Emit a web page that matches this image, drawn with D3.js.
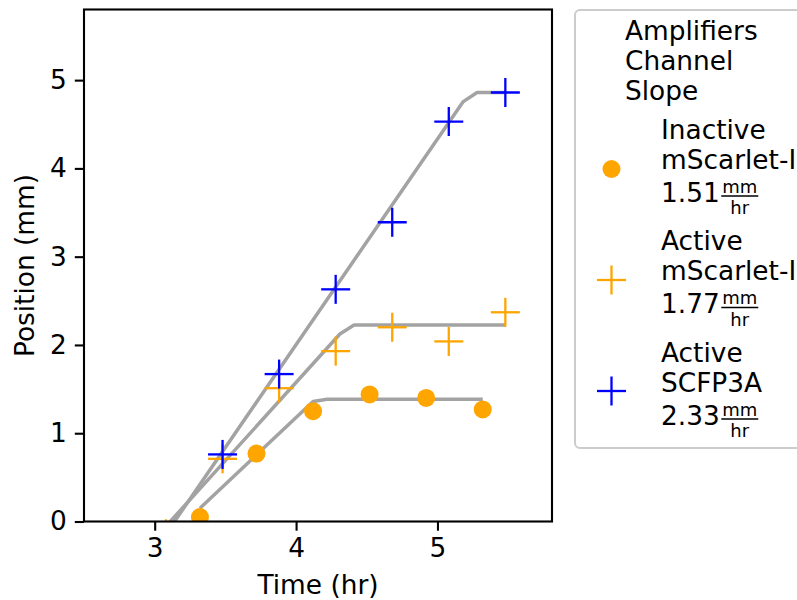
<!DOCTYPE html>
<html>
<head>
<meta charset="utf-8">
<script src="https://cdn.jsdelivr.net/npm/d3@7"></script>
<style>
  html, body { margin: 0; padding: 0; background: #fff; }
  svg { display: block; }
  text { font-family: "DejaVu Sans", sans-serif; fill: #000; }
</style>
</head>
<body>
<svg id="chart" width="797" height="600"></svg>
<script>
// Measured positions over time for each amplifier/channel combination
const inactiveTimes = [3.32, 3.72, 4.12, 4.52, 4.92, 5.32];
const inactivePos   = [0.05, 0.77, 1.25, 1.44, 1.40, 1.27];

const activeRedTimes = [3.08, 3.48, 3.88, 4.28, 4.68, 5.08, 5.48];
const activeRedPos   = [-0.14, 0.71, 1.51, 1.93, 2.20, 2.04, 2.37];

const activeBlueTimes = [3.48, 3.88, 4.28, 4.68, 5.08, 5.48];
const activeBluePos   = [0.76, 1.67, 2.63, 3.39, 4.53, 4.86];

// Ramp-and-plateau fits: slope (mm/hr), onset time (hr), plateau (mm)
const seriesNames = ["Inactive", "Active", "Active"];
const channelNames = ["mScarlet-I", "mScarlet-I", "SCFP3A"];
const fitSlopes = [1.51, 1.77, 2.33];
const fitOnsets = [3.22, 3.11, 3.14];
const fitPlateaus = [1.385, 2.225, 4.86];
const fitVertexTimes = [
  [3.32, 4.12, 4.22, 5.32],
  [3.08, 4.31, 4.41, 5.48],
  [3.08, 5.18, 5.28, 5.48]
];

const xTicks = [3, 4, 5];
const yTicks = [0, 1, 2, 3, 4, 5];
const xDomain = [2.5, 5.81];
const yDomain = [0, 5.8];

const svg = d3.select("#chart");
const frame = { left: 84, top: 9.5, width: 468, height: 512 };
const FS = 26.4;

const x = d3.scaleLinear().domain(xDomain).range([frame.left, frame.left + frame.width]);
const y = d3.scaleLinear().domain(yDomain).range([frame.top + frame.height, frame.top]);

svg.append("defs").append("clipPath").attr("id", "plot-clip")
  .append("rect")
  .attr("x", frame.left).attr("y", frame.top)
  .attr("width", frame.width).attr("height", frame.height);

const plot = svg.append("g").attr("clip-path", "url(#plot-clip)");

// Fit lines
const fitLine = d3.line().x(d => x(d[0])).y(d => y(d[1]));
fitVertexTimes.forEach((times, i) => {
  const pts = times.map(t => [t, Math.min(fitSlopes[i] * (t - fitOnsets[i]), fitPlateaus[i])]);
  plot.append("path")
    .attr("d", fitLine(pts))
    .attr("fill", "none")
    .attr("stroke", "#a3a3a3")
    .attr("stroke-width", 3.5)
    .attr("stroke-linejoin", "round");
});

const ORANGE = "#ffa500";
const BLUE = "#0000ff";
const crossHalf = 14.5;

function drawCross(g, cx, cy, color) {
  g.append("line").attr("x1", cx - crossHalf).attr("x2", cx + crossHalf)
    .attr("y1", cy).attr("y2", cy).attr("stroke", color).attr("stroke-width", 2.3);
  g.append("line").attr("x1", cx).attr("x2", cx)
    .attr("y1", cy - crossHalf).attr("y2", cy + crossHalf).attr("stroke", color).attr("stroke-width", 2.3);
}

// Inactive mScarlet-I: filled circles
plot.selectAll("circle.inactive")
  .data(inactiveTimes.map((t, i) => [t, inactivePos[i]]))
  .join("circle")
  .attr("class", "inactive")
  .attr("cx", d => x(d[0])).attr("cy", d => y(d[1]))
  .attr("r", 9).attr("fill", ORANGE);

// Active mScarlet-I: orange crosses
activeRedTimes.forEach((t, i) => drawCross(plot, x(t), y(activeRedPos[i]), ORANGE));
// Active SCFP3A: blue crosses
activeBlueTimes.forEach((t, i) => drawCross(plot, x(t), y(activeBluePos[i]), BLUE));

// Axes
const xAxis = svg.append("g")
  .attr("transform", `translate(0,${frame.top + frame.height})`)
  .call(d3.axisBottom(x).tickValues(xTicks).tickSize(9.2).tickPadding(8).tickFormat(d3.format("d")));
const yAxis = svg.append("g")
  .attr("transform", `translate(${frame.left},0)`)
  .call(d3.axisLeft(y).tickValues(yTicks).tickSize(9.2).tickPadding(8).tickFormat(d3.format("d")));
[xAxis, yAxis].forEach(a => {
  a.select(".domain").remove();
  a.selectAll(".tick line").attr("stroke", "#000").attr("stroke-width", 2.1);
  a.selectAll(".tick text").style("font-size", FS + "px").style("font-family", "DejaVu Sans").attr("fill", "#000");
});

// Frame
svg.append("rect")
  .attr("x", frame.left).attr("y", frame.top)
  .attr("width", frame.width).attr("height", frame.height)
  .attr("fill", "none").attr("stroke", "#000").attr("stroke-width", 2.1);

// Axis labels
svg.append("text")
  .attr("x", frame.left + frame.width / 2).attr("y", 594)
  .attr("text-anchor", "middle").style("font-size", FS + "px")
  .text("Time (hr)");
svg.append("text")
  .attr("transform", `translate(34,${frame.top + frame.height / 2}) rotate(-90)`)
  .attr("text-anchor", "middle").style("font-size", FS + "px")
  .text("Position (mm)");

// Legend
const legend = svg.append("g");
legend.append("rect")
  .attr("x", 575).attr("y", 10).attr("width", 260).attr("height", 438)
  .attr("rx", 5).attr("fill", "#fff").attr("stroke", "#cccccc").attr("stroke-width", 2);

const titleLines = ["Amplifiers", "Channel", "Slope"];
titleLines.forEach((s, i) => {
  legend.append("text").attr("x", 625).attr("y", 40 + i * 30)
    .style("font-size", FS + "px").text(s);
});

const entryTop = [138.5, 250, 361.5];
const markerY = [169, 280, 391];
const slopeLabels = fitSlopes.map(s => s.toFixed(2));

entryTop.forEach((by, i) => {
  const tx = 661;
  legend.append("text").attr("x", tx).attr("y", by).style("font-size", FS + "px").text(seriesNames[i]);
  legend.append("text").attr("x", tx).attr("y", by + 30).style("font-size", FS + "px").text(channelNames[i]);
  const num = legend.append("text").attr("x", tx).attr("y", by + 63).style("font-size", FS + "px").text(slopeLabels[i]);
  const w = num.node().getComputedTextLength();
  const fx = tx + w + 1.5;
  const fw = 37;
  // Unit fraction mm / hr
  legend.append("line").attr("x1", fx).attr("x2", fx + fw)
    .attr("y1", by + 57.5).attr("y2", by + 57.5).attr("stroke", "#000").attr("stroke-width", 1.4);
  legend.append("text").attr("x", fx + fw / 2).attr("y", by + 54).attr("text-anchor", "middle")
    .style("font-size", "18px").text("mm");
  legend.append("text").attr("x", fx + fw / 2).attr("y", by + 75.5).attr("text-anchor", "middle")
    .style("font-size", "18px").text("hr");

  const mx = 611.5;
  if (i === 0) {
    legend.append("circle").attr("cx", mx).attr("cy", markerY[i]).attr("r", 9).attr("fill", ORANGE);
  } else {
    drawCross(legend, mx, markerY[i], i === 1 ? ORANGE : BLUE);
  }
});
</script>
</body>
</html>
